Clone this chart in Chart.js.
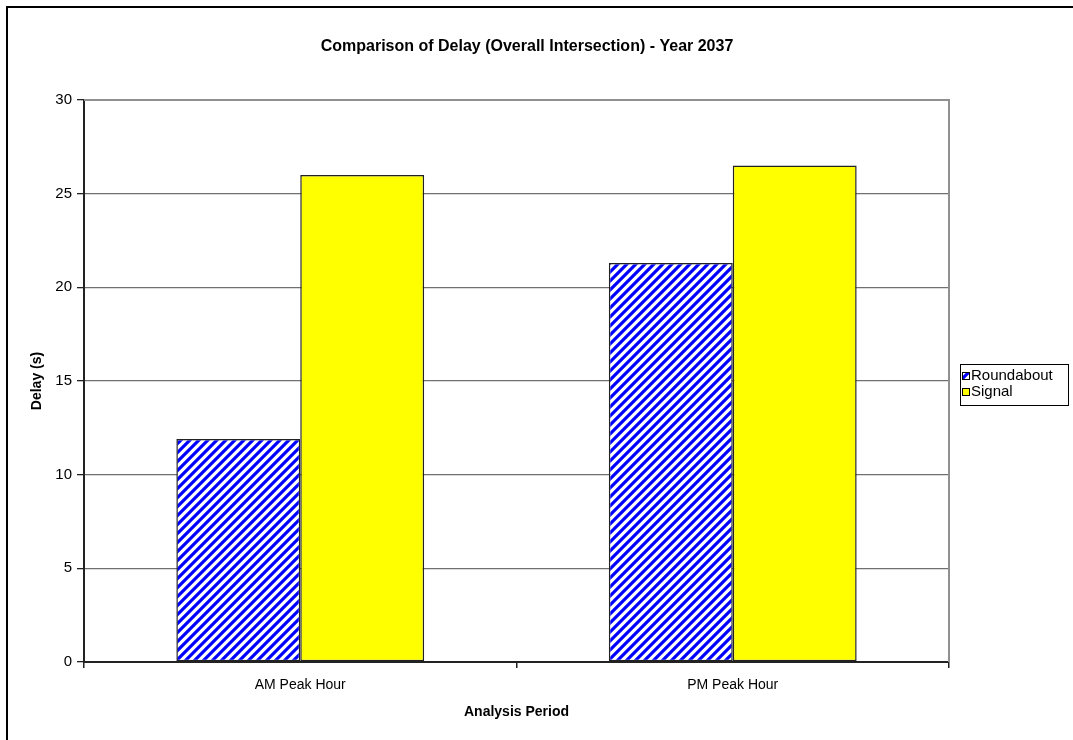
<!DOCTYPE html>
<html>
<head>
<meta charset="utf-8">
<script src="https://cdn.jsdelivr.net/npm/chart.js@4/dist/chart.umd.min.js"></script>
<style>
  html, body { margin: 0; padding: 0; background: #fff; overflow: hidden; }
  #wrap { width: 1073px; height: 740px; position: relative; }
</style>
</head>
<body>
<div id="wrap"><canvas id="chart"></canvas></div>
<script>
const categories = ["AM Peak Hour", "PM Peak Hour"]
const roundabout = [11.9, 21.3]
const signal = [26.0, 26.5]
const yTicks = [0, 5, 10, 15, 20, 25, 30]

const FONT = "'Liberation Sans', Arial, sans-serif"

// blue / white upward diagonal stripes, like the old Excel fill
function stripePattern() {
  const size = 9
  const c = document.createElement("canvas")
  c.width = size
  c.height = size
  const g = c.getContext("2d")
  g.fillStyle = "#fff"
  g.fillRect(0, 0, size, size)
  g.strokeStyle = "#0000ff"
  g.lineWidth = 3.2
  g.beginPath()
  g.moveTo(-2, size + 2); g.lineTo(size + 2, -2)
  g.moveTo(-2, 2); g.lineTo(2, -2)
  g.moveTo(size - 2, size + 2); g.lineTo(size + 2, size - 2)
  g.stroke()
  return g.createPattern(c, "repeat")
}

const frameAndTitle = {
  id: "frameAndTitle",
  beforeDraw(chart) {
    const ctx = chart.ctx
    ctx.save()
    ctx.strokeStyle = "#000"
    ctx.lineWidth = 2
    ctx.beginPath()
    ctx.moveTo(7, 740); ctx.lineTo(7, 7); ctx.lineTo(1073, 7)
    ctx.stroke()
    ctx.fillStyle = "#000"
    ctx.font = "bold 16px " + FONT
    ctx.textAlign = "center"
    ctx.textBaseline = "middle"
    ctx.fillText("Comparison of Delay (Overall Intersection) - Year 2037", 527, 47)
    ctx.restore()
  },
  beforeDatasetsDraw(chart) {
    const { ctx, chartArea: a } = chart
    ctx.save()
    ctx.strokeStyle = "#909090"
    ctx.lineWidth = 2
    ctx.beginPath()
    ctx.moveTo(a.left, a.top); ctx.lineTo(a.right, a.top); ctx.lineTo(a.right, a.bottom)
    ctx.stroke()
    ctx.restore()
  },
  afterDraw(chart) {
    const ctx = chart.ctx
    const x = 960, y = 364, w = 108, h = 41
    ctx.save()
    ctx.fillStyle = "#fff"
    ctx.fillRect(x, y, w, h)
    ctx.strokeStyle = "#000"
    ctx.lineWidth = 1
    ctx.strokeRect(x + 0.5, y + 0.5, w, h)
    ctx.font = "15px " + FONT
    ctx.textBaseline = "middle"
    chart.data.datasets.forEach((ds, i) => {
      const cy = y + 12 + i * 16
      ctx.fillStyle = ds.backgroundColor
      ctx.fillRect(962, cy - 4, 8, 8)
      ctx.strokeStyle = "#000"
      ctx.strokeRect(962.5, cy - 3.5, 7, 7)
      ctx.fillStyle = "#000"
      ctx.fillText(ds.label, 971, cy)
    })
    ctx.restore()
  },
}

new Chart(document.getElementById("chart"), {
  type: "bar",
  data: {
    labels: categories,
    datasets: [
      {
        label: "Roundabout",
        data: roundabout,
        backgroundColor: stripePattern(),
        borderColor: "#222",
        borderWidth: 1.5,
        borderSkipped: false,
        categoryPercentage: 0.573,
        barPercentage: 1.0,
      },
      {
        label: "Signal",
        data: signal,
        backgroundColor: "#ffff00",
        borderColor: "#222",
        borderWidth: 1.5,
        borderSkipped: false,
        categoryPercentage: 0.573,
        barPercentage: 1.0,
      },
    ],
  },
  options: {
    responsive: true,
    maintainAspectRatio: false,
    animation: false,
    layout: { padding: { top: 100, right: 124, bottom: 0, left: 0 } },
    plugins: {
      legend: { display: false },
      tooltip: { enabled: false },
    },
    scales: {
      x: {
        afterFit: (s) => { s.height = 78 },
        grid: {
          display: true,
          drawOnChartArea: false,
          offset: true,
          tickLength: 6,
          tickColor: "#222",
          lineWidth: 1.5,
        },
        border: { color: "#222", width: 2 },
        ticks: { color: "#000", padding: 9, font: { family: FONT, size: 14 } },
        title: {
          display: true,
          text: "Analysis Period",
          color: "#000",
          font: { family: FONT, size: 14, weight: "bold" },
          padding: { bottom: 19 },
        },
      },
      y: {
        min: 0,
        max: 30,
        afterFit: (s) => { s.width = 84 },
        afterBuildTicks: (s) => { s.ticks = yTicks.map((v) => ({ value: v })) },
        grid: {
          color: "#707070",
          lineWidth: 1.3,
          tickLength: 7,
          tickColor: "#222",
        },
        border: { color: "#222", width: 2 },
        ticks: { color: "#000", padding: 5, font: { family: FONT, size: 15 } },
        title: {
          display: true,
          text: "Delay (s)",
          color: "#000",
          font: { family: FONT, size: 14, weight: "bold" },
          padding: { top: 29 },
        },
      },
    },
  },
  plugins: [frameAndTitle],
})
</script>
</body>
</html>
